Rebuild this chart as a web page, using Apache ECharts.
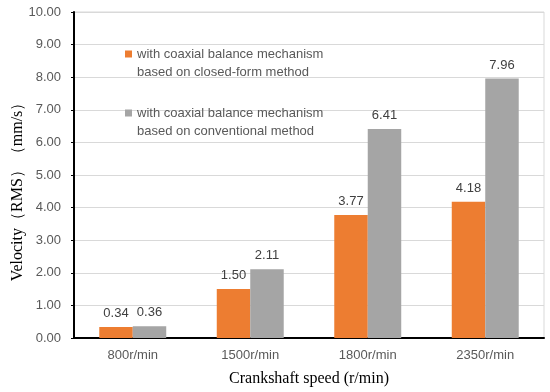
<!DOCTYPE html>
<html>
<head>
<meta charset="utf-8">
<script src="https://cdn.jsdelivr.net/npm/echarts@6/dist/echarts.min.js"></script>
<style>html,body{margin:0;padding:0;background:#fff}#c{width:550px;height:392px}</style>
</head>
<body>
<div id="c"></div>
<script>
var categories = ['800r/min', '1500r/min', '1800r/min', '2350r/min'];
var closedForm = [0.34, 1.50, 3.77, 4.18];
var conventional = [0.36, 2.11, 6.41, 7.96];
var seriesNames = [
  'with coaxial balance mechanism\nbased on closed-form method',
  'with coaxial balance mechanism\nbased on conventional method'
];
var yTicks = { min: 0, max: 10, interval: 1 };

var chart = echarts.init(document.getElementById('c'));
var labelStyle = {
  show: true, position: 'top', distance: 7,
  fontFamily: 'Liberation Sans', fontSize: 13, color: '#404040',
  formatter: function (p) { return p.value.toFixed(2); }
};
chart.setOption({
  animation: false,
  backgroundColor: '#fff',
  grid: { left: 74, right: 6, top: 12, bottom: 54, outerBoundsMode: 'none', containLabel: false,
    show: true, borderColor: '#d9d9d9', borderWidth: 1 },
  legend: {
    orient: 'vertical', left: 125, top: 27, padding: 0, itemGap: 5,
    itemWidth: 7, itemHeight: 7, icon: 'rect',
    formatter: function (name) { return '\n' + name; },
    textStyle: { fontFamily: 'Liberation Sans', fontSize: 13, color: '#595959', lineHeight: 18 },
    data: seriesNames
  },
  xAxis: {
    type: 'category', data: categories,
    name: 'Crankshaft speed (r/min)', nameLocation: 'middle', nameGap: 33, nameMoveOverlap: false,
    nameTextStyle: { fontFamily: 'Liberation Serif', fontSize: 16, color: '#000' },
    axisLine: { lineStyle: { color: '#000', width: 2 } },
    axisTick: { show: false },
    axisLabel: { fontFamily: 'Liberation Sans', fontSize: 13, color: '#595959', margin: 11 }
  },
  yAxis: {
    type: 'value', min: yTicks.min, max: yTicks.max, interval: yTicks.interval,
    name: 'Velocity\uFF08RMS\uFF09\uFF08mm/s\uFF09', nameLocation: 'middle', nameGap: 48, nameMoveOverlap: false,
    nameTextStyle: { fontFamily: 'Liberation Serif', fontSize: 16, color: '#000', padding: [0, 26, 0, 0] },
    axisLine: { show: true, lineStyle: { color: '#000', width: 2 } },
    axisTick: { show: true, length: 3, lineStyle: { color: '#000', width: 1 } },
    splitLine: { lineStyle: { color: '#d9d9d9', width: 1 } },
    axisLabel: { fontFamily: 'Liberation Sans', fontSize: 13, color: '#595959', margin: 13,
      formatter: function (v) { return v.toFixed(2); } }
  },
  series: [
    { name: seriesNames[0], type: 'bar', data: closedForm, barGap: '0%', barCategoryGap: '43%',
      itemStyle: { color: '#ED7D31' }, label: labelStyle },
    { name: seriesNames[1], type: 'bar', data: conventional, barGap: '0%', barCategoryGap: '43%',
      itemStyle: { color: '#A5A5A5' }, label: labelStyle }
  ]
});
</script>
</body>
</html>
